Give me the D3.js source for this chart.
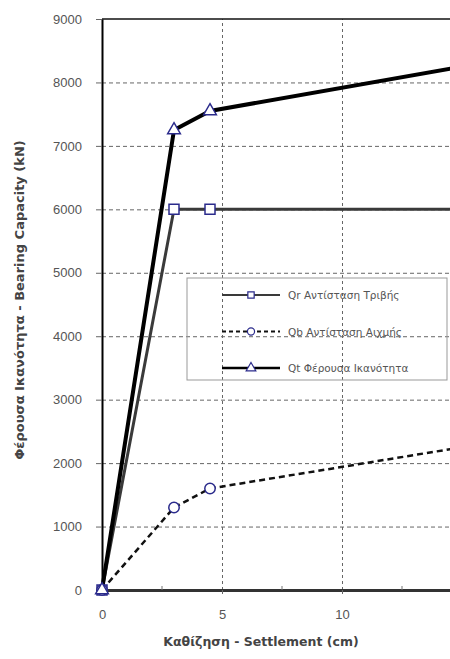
<!DOCTYPE html>
<html>
<head>
<meta charset="utf-8">
<script src="https://cdn.jsdelivr.net/npm/d3@7"></script>
<style>
  html, body { margin: 0; padding: 0; background: #fff; }
  #d3-panel { width: 450px; height: 659px; overflow: hidden; }
</style>
</head>
<body>
<div id="d3-panel"></div>
<script>
// data
var settlement = [0, 3, 4.5, 15];          // cm
var qr = [0, 6000, 6000, 6000];            // Qr Αντίσταση Τριβής
var qb = [0, 1300, 1600, 2250];            // Qb Αντίσταση Αιχμής
var qt = [0, 7250, 7550, 8250];            // Qt Φέρουσα Ικανότητα
var seriesNames = ["Qr Αντίσταση Τριβής", "Qb Αντίσταση Αιχμής", "Qt Φέρουσα Ικανότητα"];
var xTicks = [0, 5, 10];
var xMinor = [2.5, 7.5, 12.5];
var yTicks = [0, 1000, 2000, 3000, 4000, 5000, 6000, 7000, 8000, 9000];

var width = 450;
var height = 659;
var padLeft = 102, padTop = 19;
var plotW = 480, plotH = 571;   // plot runs past the right edge (cropped)

var svg = d3.select("#d3-panel")
	.append("svg")
	.attr("width", width)
	.attr("height", height)
	.style("font-family", "'DejaVu Sans', sans-serif");

var xScale = d3.scaleLinear().domain([0, 20]).range([0, plotW]);
var yScale = d3.scaleLinear().domain([0, 9000]).range([plotH, 0]);

var g = svg.append("g").attr("transform", "translate(" + padLeft + "," + padTop + ")");

// grid
g.append("g")
	.attr("class", "grid")
	.call(d3.axisLeft(yScale).tickValues(yTicks.slice(1, -1)).tickSize(-plotW).tickFormat(""))
	.call(function(s){ s.select(".domain").remove(); })
	.selectAll("line")
	.attr("stroke", "#666")
	.attr("stroke-dasharray", "4,3");

g.append("g")
	.attr("class", "grid")
	.attr("transform", "translate(0," + plotH + ")")
	.call(d3.axisBottom(xScale).tickValues([5, 10, 15]).tickSize(-plotH).tickFormat(""))
	.call(function(s){ s.select(".domain").remove(); })
	.selectAll("line")
	.attr("stroke", "#666")
	.attr("stroke-dasharray", "3,3");

// top border
g.append("line")
	.attr("x1", 0).attr("x2", plotW)
	.attr("y1", 0).attr("y2", 0)
	.attr("stroke", "#111").attr("stroke-width", 1.5);

// y axis
var axisY = g.append("g")
	.call(d3.axisLeft(yScale).tickValues(yTicks).tickSize(6).tickSizeOuter(0).tickPadding(14).tickFormat(d3.format("d")));
axisY.select(".domain").attr("stroke", "#000").attr("stroke-width", 2);
axisY.selectAll(".tick line").attr("stroke", "#666");
axisY.selectAll("text")
	.attr("fill", "#555")
	.style("font-size", "13px");

// x axis
var axisX = g.append("g")
	.attr("transform", "translate(0," + plotH + ")")
	.call(d3.axisBottom(xScale).tickValues(xTicks).tickSize(4).tickSizeOuter(0).tickPadding(16).tickFormat(d3.format("d")));
axisX.select(".domain").attr("stroke", "#333").attr("stroke-width", 3);
axisX.selectAll(".tick line").attr("stroke", "#666");
axisX.selectAll("text")
	.attr("fill", "#555")
	.style("font-size", "13px");

// minor ticks
g.append("g")
	.selectAll("line")
	.data(xMinor)
	.enter()
	.append("line")
	.attr("x1", function(d){ return xScale(d); })
	.attr("x2", function(d){ return xScale(d); })
	.attr("y1", plotH - 4)
	.attr("y2", plotH)
	.attr("stroke", "#777");

// lines
var lineGen = d3.line()
	.x(function(d){ return xScale(d[0]); })
	.y(function(d){ return yScale(d[1]); });

function pairs(vals) {
	return settlement.map(function(s, i){ return [s, vals[i]]; });
}

var series = [
	{ name: seriesNames[0], data: pairs(qr), stroke: "#3a3a3a", width: 3, dash: null, symbol: d3.symbolSquare, size: 100 },
	{ name: seriesNames[1], data: pairs(qb), stroke: "#111", width: 2.5, dash: "6,4", symbol: d3.symbolCircle, size: 85 },
	{ name: seriesNames[2], data: pairs(qt), stroke: "#000", width: 4, dash: null, symbol: d3.symbolTriangle, size: 70 }
];

series.forEach(function(s){
	g.append("path")
		.datum(s.data)
		.attr("d", lineGen)
		.attr("fill", "none")
		.attr("stroke", s.stroke)
		.attr("stroke-width", s.width)
		.attr("stroke-dasharray", s.dash);
});

var markerColor = "#2b2b8c";
series.forEach(function(s){
	g.append("g")
		.selectAll("path")
		.data(s.data)
		.enter()
		.append("path")
		.attr("transform", function(d){ return "translate(" + xScale(d[0]) + "," + yScale(d[1]) + ")"; })
		.attr("d", d3.symbol().type(s.symbol).size(s.size))
		.attr("fill", "#fff")
		.attr("stroke", markerColor)
		.attr("stroke-width", 1.5);
});

// legend
var legend = svg.append("g");
legend.append("rect")
	.attr("x", 187).attr("y", 278)
	.attr("width", 260).attr("height", 102)
	.attr("fill", "none")
	.attr("stroke", "#999");

series.forEach(function(s, i){
	var ly = 295 + i * 36.5;
	legend.append("line")
		.attr("x1", 222).attr("x2", 280)
		.attr("y1", ly).attr("y2", ly)
		.attr("stroke", s.stroke)
		.attr("stroke-width", i == 2 ? 2.5 : 2)
		.attr("stroke-dasharray", s.dash ? "4,3" : null);
	legend.append("path")
		.attr("transform", "translate(251," + ly + ")")
		.attr("d", d3.symbol().type(s.symbol).size(40))
		.attr("fill", "#fff")
		.attr("stroke", markerColor)
		.attr("stroke-width", 1.2);
	legend.append("text")
		.attr("x", 288).attr("y", ly + 4)
		.attr("fill", "#555")
		.style("font-size", "10.5px")
		.text(s.name);
});

// axis titles
svg.append("text")
	.attr("x", 261).attr("y", 646)
	.attr("text-anchor", "middle")
	.attr("fill", "#444")
	.style("font-size", "12.5px")
	.style("font-weight", "bold")
	.text("Καθίζηση - Settlement (cm)");

svg.append("text")
	.attr("transform", "translate(24,300) rotate(-90)")
	.attr("text-anchor", "middle")
	.attr("fill", "#444")
	.style("font-size", "13px")
	.style("font-weight", "bold")
	.text("Φέρουσα Ικανότητα - Bearing Capacity (kN)");
</script>
</body>
</html>
